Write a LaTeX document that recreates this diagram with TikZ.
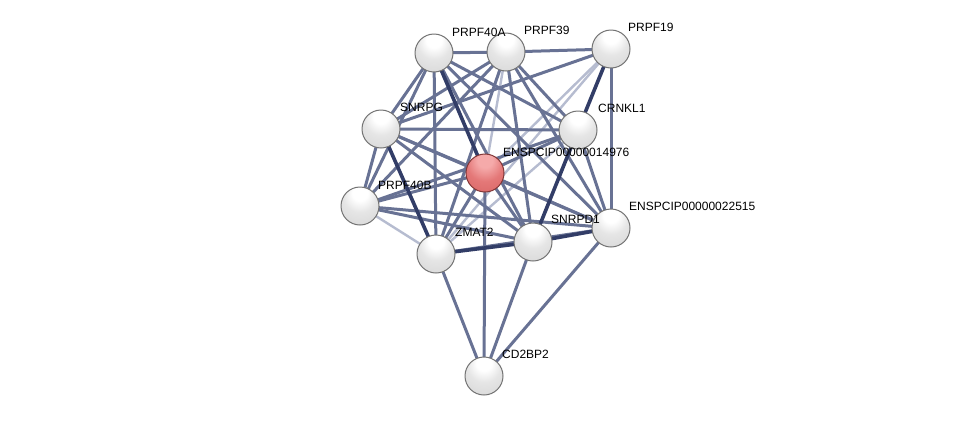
\documentclass[tikz,border=0pt]{standalone}
\usepackage{fontspec}
\setmainfont{Liberation Sans}
\definecolor{edgemed}{RGB}{104,114,148}
\definecolor{edgedrk}{RGB}{50,61,103}
\definecolor{edgelgt}{RGB}{182,188,208}
\definecolor{ballredhi}{RGB}{245,170,170}
\definecolor{ballredmid}{RGB}{228,120,120}
\definecolor{ballred}{RGB}{212,95,95}
\definecolor{ballredlo}{RGB}{180,70,70}
\definecolor{ballredline}{RGB}{130,55,55}
\pgfdeclareradialshading{graysph}{\pgfpoint{0bp}{20bp}}{color(0bp)=(white); color(10bp)=(white); color(22bp)=(white!90!black); color(45bp)=(white!83!black); color(60bp)=(white!74!black); color(70bp)=(white!62!black)}
\pgfdeclareradialshading{redsph}{\pgfpoint{0bp}{20bp}}{color(0bp)=(ballredhi); color(10bp)=(ballredhi); color(24bp)=(ballredmid); color(48bp)=(ballred); color(60bp)=(ballredlo); color(70bp)=(ballredlo)}
\begin{document}
\begin{tikzpicture}[x=1pt,y=-1pt,
  med/.style={draw=edgemed,line width=3pt},
  drk/.style={draw=edgedrk,line width=3.6pt},
  lgt/.style={draw=edgelgt,line width=2.4pt},
  ball/.style={circle,minimum size=38pt,inner sep=0pt,shading=graysph,draw=black!55,line width=1pt},
  redball/.style={ball,shading=redsph,draw=ballredline},
  lbl/.style={anchor=west,font=\fontsize{12pt}{13pt}\selectfont,inner sep=0pt}]
\useasboundingbox (0,0) rectangle (975,421);
\fill[white] (0,0) rectangle (975,421);
\coordinate (A) at (434,53);
\coordinate (B) at (506,52);
\coordinate (C) at (611,49);
\coordinate (G) at (381,129);
\coordinate (K) at (578,130);
\coordinate (E) at (485,173);
\coordinate (F) at (360,206);
\coordinate (X) at (611,228);
\coordinate (D) at (533,242);
\coordinate (Z) at (436,254);
\coordinate (Q) at (484,376);
% edges
\draw[lgt] (B)--(E); \draw[lgt] (C)--(E); \draw[lgt] (C)--(Z); \draw[lgt] (F)--(Z); \draw[lgt] (K)--(Z);
\draw[med] (A)--(B); \draw[med] (B)--(C);
\draw[med] (A)--(G); \draw[med] (A)--(F); \draw[med] (A)--(Z); \draw[med] (A)--(K); \draw[med] (A)--(D); \draw[med] (A)--(X);
\draw[med] (B)--(G); \draw[med] (B)--(F); \draw[med] (B)--(K); \draw[med] (B)--(D); \draw[med] (B)--(Z); \draw[med] (B)--(X);
\draw[med] (C)--(G); \draw[med] (C)--(X);
\draw[med] (G)--(K); \draw[med] (G)--(F); \draw[med] (G)--(D); \draw[med] (G)--(E); \draw[med] (G)--(X);
\draw[med] (F)--(E); \draw[med] (F)--(K); \draw[med] (F)--(D); \draw[med] (F)--(X);
\draw[med] (K)--(E); \draw[med] (K)--(X);
\draw[med] (E)--(D); \draw[med] (E)--(Z); \draw[med] (E)--(X); \draw[med] (E)--(Q);
\draw[med] (Z)--(Q); \draw[med] (D)--(Q); \draw[med] (X)--(Q); \draw[med] (Z)--(X);
\draw[drk] (A)--(E); \draw[drk] (C)--(K); \draw[drk] (G)--(Z); \draw[drk] (K)--(D); \draw[drk] (Z)--(D); \draw[drk] (D)--(X);
% nodes
\node[ball] (nA) at (A) {};
\node[ball] (nB) at (B) {};
\node[ball] (nC) at (C) {};
\node[ball] (nG) at (G) {};
\node[ball] (nK) at (K) {};
\node[redball] (nE) at (E) {};
\node[ball] (nF) at (F) {};
\node[ball] (nX) at (X) {};
\node[ball] (nD) at (D) {};
\node[ball] (nZ) at (Z) {};
\node[ball] (nQ) at (Q) {};
% labels
\node[lbl] (lA) at (452,32) {PRPF40A};
\node[lbl] (lB) at (524,30) {PRPF39};
\node[lbl] (lC) at (628,27) {PRPF19};
\node[lbl] (lG) at (400,107) {SNRPG};
\node[lbl] (lK) at (598,108) {CRNKL1};
\node[lbl] (lE) at (503,152) {ENSPCIP00000014976};
\node[lbl] (lF) at (378,185) {PRPF40B};
\node[lbl] (lX) at (629,206) {ENSPCIP00000022515};
\node[lbl] (lD) at (551,219) {SNRPD1};
\node[lbl] (lZ) at (455,232) {ZMAT2};
\node[lbl] (lQ) at (502,354) {CD2BP2};
\end{tikzpicture}
\end{document}
